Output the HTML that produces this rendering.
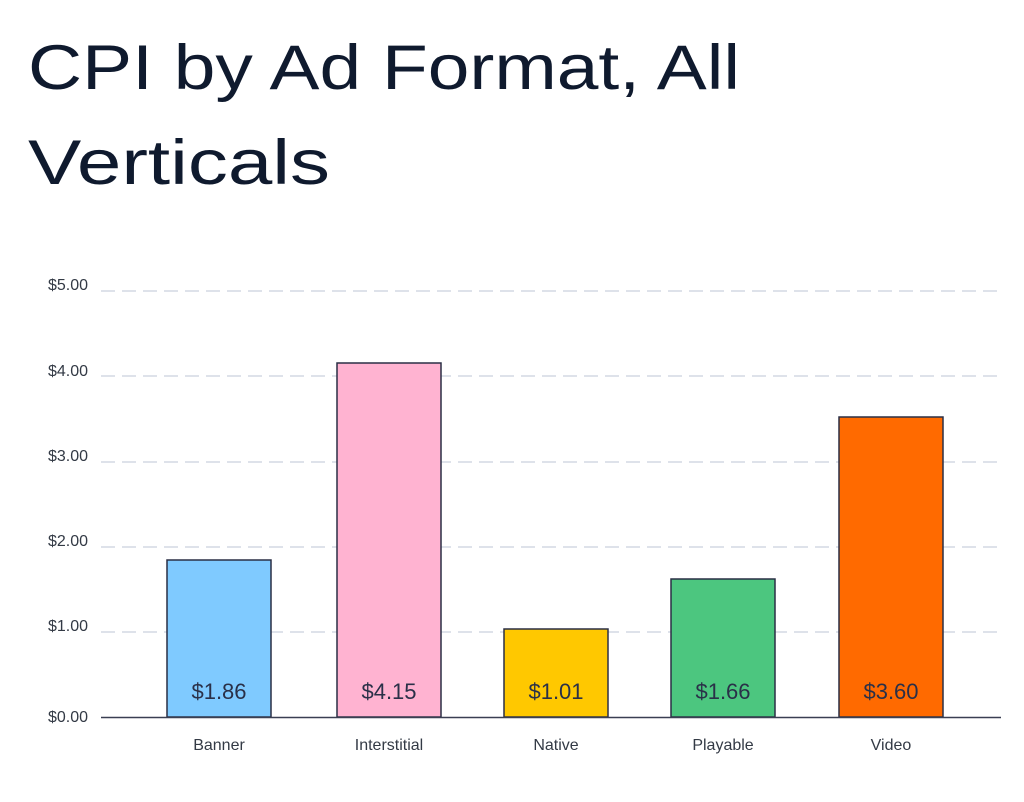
<!DOCTYPE html>
<html><head><meta charset="utf-8"><style>
html,body{margin:0;padding:0;background:#fff;width:1024px;height:802px;overflow:hidden}
svg{display:block}
text{font-family:"Liberation Sans",sans-serif}
</style></head><body>
<svg width="1024" height="802" viewBox="0 0 1024 802">
<text x="28" y="89" font-size="63" fill="#0f1a2e" textLength="712" lengthAdjust="spacingAndGlyphs">CPI by Ad Format, All</text>
<text x="28" y="184" font-size="63" fill="#0f1a2e" textLength="302" lengthAdjust="spacingAndGlyphs">Verticals</text>
<g stroke="#d3d8e3" stroke-width="1.5" stroke-dasharray="14,7">
<line x1="101" y1="291" x2="1000" y2="291"/>
<line x1="101" y1="376" x2="1000" y2="376"/>
<line x1="101" y1="462" x2="1000" y2="462"/>
<line x1="101" y1="547" x2="1000" y2="547"/>
<line x1="101" y1="632" x2="1000" y2="632"/>
</g>
<g font-size="16" fill="#333a45" text-anchor="end">
<text x="88" y="290">$5.00</text>
<text x="88" y="376">$4.00</text>
<text x="88" y="461">$3.00</text>
<text x="88" y="546">$2.00</text>
<text x="88" y="631">$1.00</text>
<text x="88" y="722">$0.00</text>
</g>
<g stroke="#2a2f45" stroke-width="1.5">
<rect x="167" y="560" width="104" height="157" fill="#7fcaff"/>
<rect x="337" y="363" width="104" height="354" fill="#ffb3d1"/>
<rect x="504" y="629" width="104" height="88" fill="#ffc800"/>
<rect x="671" y="579" width="104" height="138" fill="#4cc67f"/>
<rect x="839" y="417" width="104" height="300" fill="#ff6a00"/>
</g>
<line x1="101" y1="717.5" x2="1001" y2="717.5" stroke="#3a3f52" stroke-width="1.5"/>
<g font-size="22" fill="#2a3048" text-anchor="middle">
<text x="219" y="699">$1.86</text>
<text x="389" y="699">$4.15</text>
<text x="556" y="699">$1.01</text>
<text x="723" y="699">$1.66</text>
<text x="891" y="699">$3.60</text>
</g>
<g font-size="16" fill="#333a45" text-anchor="middle">
<text x="219" y="750">Banner</text>
<text x="389" y="750">Interstitial</text>
<text x="556" y="750">Native</text>
<text x="723" y="750">Playable</text>
<text x="891" y="750">Video</text>
</g>
</svg>
</body></html>
